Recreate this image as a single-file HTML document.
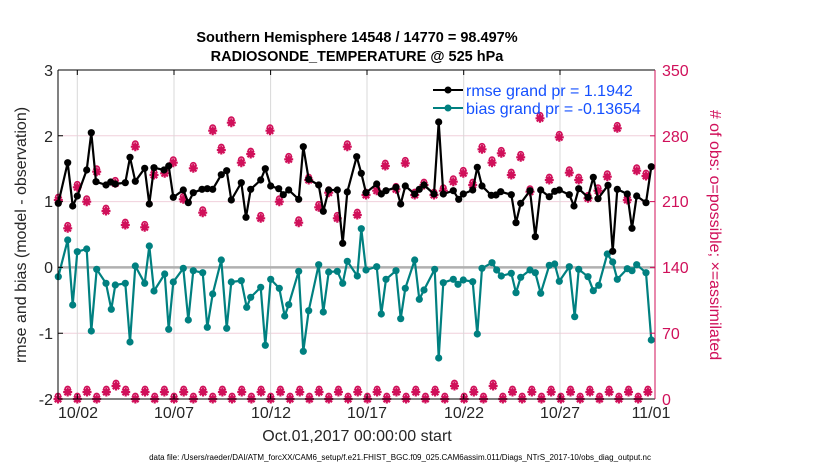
<!DOCTYPE html>
<html><head><meta charset="utf-8"><style>
html,body{margin:0;padding:0;background:#fff}
svg{display:block;font-family:"Liberation Sans",sans-serif}
</style></head><body>
<svg id="s" width="830" height="470" viewBox="0 0 830 470" xmlns="http://www.w3.org/2000/svg">
<rect width="830" height="470" fill="#fff"/>
<g stroke="#f0d0dc" stroke-width="1">
<line x1="58" x2="655" y1="135.8" y2="135.8"/><line x1="58" x2="655" y1="201.6" y2="201.6"/>
<line x1="58" x2="655" y1="333.2" y2="333.2"/>
</g>
<g stroke="#d8d8d8" stroke-width="1">
<line x1="77.3" x2="77.3" y1="70" y2="399"/><line x1="174" x2="174" y1="70" y2="399"/>
<line x1="270.6" x2="270.6" y1="70" y2="399"/><line x1="367" x2="367" y1="70" y2="399"/>
<line x1="463.7" x2="463.7" y1="70" y2="399"/><line x1="560" x2="560" y1="70" y2="399"/>
</g>
<line x1="58" x2="655" y1="267.4" y2="267.4" stroke="#b0b0b0" stroke-width="2.5"/>
<g id="data"></g>
<g stroke="#000" stroke-width="1" fill="none">
<line x1="58" x2="58" y1="70" y2="399"/><line x1="58" x2="655" y1="399" y2="399"/><line x1="58" x2="655" y1="70" y2="70"/>
<path d="M77.3 399v-5M174 399v-5M270.6 399v-5M367 399v-5M463.7 399v-5M560 399v-5M77.3 70v5M174 70v5M270.6 70v5M367 70v5M463.7 70v5M560 70v5M58 135.8h5M58 201.6h5M58 267.4h5M58 333.2h5"/>
</g>
<line x1="655" x2="655" y1="70" y2="399" stroke="#d0105a" stroke-width="1"/>
<g font-size="16" fill="#262626" text-anchor="end">
<text x="53" y="76">3</text><text x="53" y="142">2</text><text x="53" y="207">1</text>
<text x="53" y="273">0</text><text x="53" y="339">-1</text><text x="53" y="405">-2</text>
</g>
<g font-size="16" fill="#d0105a" text-anchor="start">
<text x="662" y="76">350</text><text x="662" y="142">280</text><text x="662" y="207">210</text>
<text x="662" y="273">140</text><text x="662" y="339">70</text><text x="662" y="405">0</text>
</g>
<g stroke="#d0105a"><line x1="650" x2="655" y1="135.8" y2="135.8"/><line x1="650" x2="655" y1="201.6" y2="201.6"/><line x1="650" x2="655" y1="267.4" y2="267.4"/><line x1="650" x2="655" y1="333.2" y2="333.2"/></g>
<g font-size="16" fill="#262626" text-anchor="middle">
<text x="78" y="418">10/02</text><text x="174" y="418">10/07</text><text x="271" y="418">10/12</text>
<text x="367" y="418">10/17</text><text x="464" y="418">10/22</text><text x="560" y="418">10/27</text><text x="651" y="418">11/01</text>
<text x="357" y="441">Oct.01,2017 00:00:00 start</text>
</g>
<text x="357" y="42" font-size="14.5" font-weight="bold" text-anchor="middle" fill="#000">Southern Hemisphere 14548 / 14770 = 98.497%</text>
<text x="357" y="61" font-size="14.5" font-weight="bold" text-anchor="middle" fill="#000">RADIOSONDE_TEMPERATURE @ 525 hPa</text>
<text transform="translate(26,235) rotate(-90)" font-size="16" text-anchor="middle" fill="#262626">rmse and bias (model - observation)</text>
<text transform="translate(710,235) rotate(90)" font-size="16" text-anchor="middle" fill="#d0105a"># of obs: o=possible; ×=assimilated</text>
<text x="400" y="460" font-size="8" text-anchor="middle" fill="#000">data file: /Users/raeder/DAI/ATM_forcXX/CAM6_setup/f.e21.FHIST_BGC.f09_025.CAM6assim.011/Diags_NTrS_2017-10/obs_diag_output.nc</text>
<line x1="433" x2="463" y1="90" y2="90" stroke="#000" stroke-width="2"/><circle cx="448" cy="90" r="3.5" fill="#000"/>
<line x1="433" x2="463" y1="108" y2="108" stroke="#008080" stroke-width="2"/><circle cx="448" cy="108" r="3.5" fill="#008080"/>
<text x="466" y="96" font-size="16" fill="#1450ff">rmse grand pr = 1.1942</text>
<text x="466" y="114" font-size="16" fill="#1450ff">bias grand pr = -0.13654</text>
</svg>
<script>
var NS="http://www.w3.org/2000/svg",g=document.getElementById("data");
function el(t,a){var e=document.createElementNS(NS,t);for(var k in a)e.setAttribute(k,a[k]);g.appendChild(e);return e;}
var blk=[[58.3,203.3],[67.7,162.7],[72.7,206],[77.3,196],[86.7,170],[91.3,132.7],[96,181.7],[106,185],[110.7,182],[115.3,184],[125.3,182.7],[130,157.3],[135.3,181.3],[144.7,168.3],[149.3,204],[154,167.7],[164,170],[168.7,166],[173.3,197.3],[183.3,190],[188.3,202.7],[193.3,192.7],[202,189.3],[207.3,188.7],[212.7,189.3],[221.3,174.7],[226.7,170.7],[231.3,200],[241.3,182.7],[246,217.3],[250.7,189.3],[260.7,180],[265.3,168.7],[270.7,186],[278.7,188.7],[283.3,194.7],[288.7,190],[298.7,199.3],[303.3,146.7],[308.7,179.3],[318.7,185],[323.3,211.3],[328.7,190],[337.3,190],[342.7,243.3],[347.3,192],[356.7,156.7],[361.3,173.3],[366,192.7],[376.7,184],[381.3,194],[386,190.7],[396,187.3],[400.7,204],[405.3,186],[414.7,194],[419.3,189.3],[424,185],[434,194],[438.7,122],[443.3,194],[453.3,190.7],[458.7,199.3],[463.3,194],[472.7,190],[477.3,167.3],[482,186],[491.3,195.3],[496,195],[500.7,191.7],[511.3,194.7],[516,222.7],[520.7,203.3],[530,190.7],[535.3,236.7],[540.7,190],[549.3,196.7],[554.7,191.3],[559.3,190],[569.3,194.7],[574,206],[578.7,188.7],[588,197.3],[593.3,177.3],[598,198.7],[608,185.3],[612.7,251.3],[617.3,189.3],[627.3,194],[632,228.3],[636.7,196],[646,202.7],[651.3,166.7]];
var tea=[[58.3,276.7],[67.7,240],[72.7,305],[77.3,251.7],[86.7,249],[91.3,331],[96.7,269.3],[106,283.3],[111.3,309.3],[115.3,285],[125.3,283.3],[130,342],[135.3,266],[144.7,283.3],[149.3,246],[154,291],[164.7,274],[168.7,329.3],[173.3,282],[183.3,268.3],[188.3,320],[193.3,270.7],[202.7,272.7],[207.3,327.3],[212.7,294],[221.3,260],[226.7,328.3],[231.3,282],[241.3,280.7],[246.7,307.3],[250.7,297.3],[260.7,287.3],[265.3,345.3],[270.7,279.3],[279.3,288.3],[284.7,316],[288.7,304.7],[298.7,271.3],[303.3,351.3],[308.7,310.7],[318.7,264.7],[323.3,312],[328.7,272],[337.3,271.3],[342.7,283.3],[347.3,261.3],[357.3,276],[361.3,228.7],[366,270],[376.7,266.7],[381.3,314],[386,279.3],[396,270.7],[400.7,318.7],[405.3,288.3],[414.7,260],[419.3,299.3],[424,290],[434.7,269.3],[438.7,358],[443.3,282.7],[453.3,279.3],[458,284.3],[463.3,280],[472.7,281.7],[477.3,334],[482,268.3],[492,262.7],[496.7,270],[501.3,276],[511.3,273.3],[516,292.7],[520.7,277.3],[530,270],[535.3,272.7],[540.7,293.3],[549.3,265.3],[554.7,264],[559.3,281.3],[569.3,266.7],[574.7,316.7],[578.7,269.3],[588,276.7],[593.3,290.7],[598.7,285.3],[607.3,254],[612.7,262],[617.3,279.3],[627.3,268.7],[632,270.7],[636.7,264.7],[646,272.7],[651.3,340]];
var mag=[[58.3,200],[67.7,228.3],[77.3,187.3],[86.7,201.7],[96.7,171.7],[106,211],[115.3,183.3],[125.3,225],[135.3,146.7],[144.7,227.3],[154,175],[164.7,173.3],[173.3,162.7],[183.3,199.3],[193.3,168.3],[202.7,212.7],[212.7,130.7],[221.3,150],[231.3,122.7],[241.3,162.7],[250.7,154],[260.7,218.3],[270,130.7],[279.3,201.7],[288.7,159.3],[298.7,222.7],[308.7,180],[318.7,207.3],[328.7,192.7],[337.3,218.3],[347.3,146.7],[357.3,215],[366,195],[376.7,190.7],[385.3,166],[396,189.3],[405.3,163.3],[414.7,195],[424,185],[434,195],[443.3,190.7],[453.3,181.7],[463.3,173.3],[472.7,185],[482,149.3],[492,162.7],[501.3,153.3],[511.3,175],[520.7,157.3],[530,191.7],[540,118.3],[549.3,180],[559.3,137.3],[569.3,172.7],[578.7,180],[588,198.3],[598,190.7],[607.3,176.7],[617.3,128.3],[627.3,200],[636.7,170.7],[646,176]];
var i;
for(i=0;i<62;i++){var x=58+i*9.67,y=(i%2?392:399);if(i==6||i==41||i==45)y=386;mag.push([x,y]);}
mag.forEach(function(p){
 el("circle",{cx:p[0],cy:p[1]-3,r:2.6,fill:"none",stroke:"#d0105a","stroke-width":1.6});
 el("path",{d:"M"+(p[0]-4.5)+" "+p[1]+"h9M"+p[0]+" "+(p[1]-4.5)+"v9M"+(p[0]-3.2)+" "+(p[1]-3.2)+"l6.4 6.4M"+(p[0]-3.2)+" "+(p[1]+3.2)+"l6.4 -6.4",stroke:"#d0105a","stroke-width":2.2});
 el("circle",{cx:p[0],cy:p[1],r:3,fill:"#d0105a"});
});
function series(arr,c){
 var d="";for(i=0;i<arr.length;i++){var p=arr[i];if(i==0||p[0]-arr[i-1][0]>12)d+="M";else d+="L";d+=p[0]+" "+p[1]+" ";}
 el("path",{d:d,fill:"none",stroke:c,"stroke-width":2.2,"stroke-linejoin":"round"});
 arr.forEach(function(p){el("circle",{cx:p[0],cy:p[1],r:3.6,fill:c});});
}
series(tea,"#008080");series(blk,"#000");
</script>
</body></html>
